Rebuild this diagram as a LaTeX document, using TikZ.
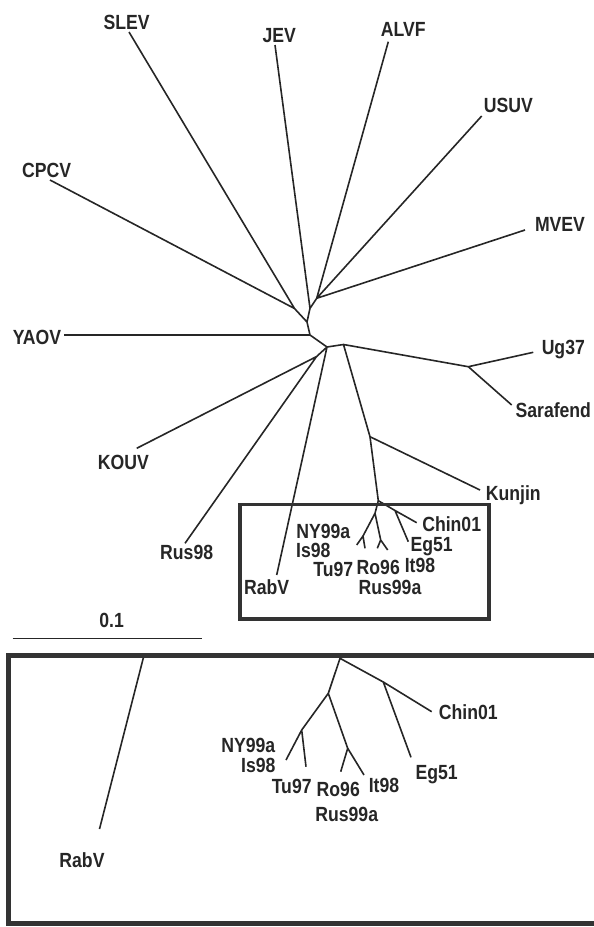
\documentclass[tikz,border=0pt]{standalone}
\usepackage{fontspec}
\setmainfont{Liberation Sans}[FakeStretch=0.86]
\usetikzlibrary{positioning}

\begin{document}
\begin{tikzpicture}[
x=1pt, y=-1pt,
branch/.style = {draw=black!85, line width=1.6pt},
taxon/.style  = {font=\fontsize{20.5}{22}\selectfont\bfseries, text=black!85,
                 inner sep=0pt, anchor=base, yshift=-1pt},
frame/.style  = {draw=black!80, line width=3.5pt},
                        ]
\useasboundingbox (0,0) rectangle (594,927);

% inner nodes of the tree
\coordinate (E)  at (316.7,298.3);
\coordinate (D)  at (310,308.3);
\coordinate (C)  at (294.5,308.5);
\coordinate (B)  at (307,322);
\coordinate (A)  at (310,335);
\coordinate (n1) at (327,347);
\coordinate (F)  at (316.5,356.6);
\coordinate (n2) at (343.5,344.5);
\coordinate (G)  at (468.3,366.7);
\coordinate (H)  at (370,436.7);
% tips
\coordinate (tSLEV) at (129,32);
\coordinate (tJEV)  at (275,45);
\coordinate (tALVF) at (388.3,41.7);
\coordinate (tUSUV) at (481.7,116);
\coordinate (tMVEV) at (525,230);
\coordinate (tCPCV) at (50,180);
\coordinate (tYAOV) at (64,335);
\coordinate (tKOUV) at (136.7,448.3);
\coordinate (tRus98) at (185,543.3);
\coordinate (tRabV) at (276.7,575);
\coordinate (tUg37) at (533.3,352.3);
\coordinate (tSara) at (511.7,405);
\coordinate (tKun)  at (480,490);

\node (SLEV) [taxon] at (126.7,28)   {SLEV};
\node (JEV)  [taxon] at (279.3,41.5) {JEV};
\node (ALVF) [taxon] at (403.3,35)   {ALVF};
\node (USUV) [taxon] at (508.3,111.5) {USUV};
\node (MVEV) [taxon] at (560,230)    {MVEV};
\node (CPCV) [taxon] at (46.7,176.5) {CPCV};
\node (YAOV) [taxon] at (37,343)     {YAOV};
\node (KOUV) [taxon] at (123.3,468)  {KOUV};
\node (Rus98) [taxon] at (186.7,558) {Rus98};
\node (RabV) [taxon] at (266.7,593)  {RabV};
\node (Ug37) [taxon] at (563.3,353)  {Ug37};
\node (Sara) [taxon] at (553.3,416.5) {Sarafend};
\node (Kun)  [taxon] at (513.3,499.5) {Kunjin};

\draw[branch] (E) -- (tALVF)  (E) -- (tUSUV)  (E) -- (tMVEV)
              (E) -- (D) -- (tJEV)
              (D) -- (B) -- (C) -- (tSLEV)  (C) -- (tCPCV)
              (B) -- (A) -- (tYAOV)
              (A) -- (n1) -- (tRabV)
              (n1) -- (F) -- (tKOUV)  (F) -- (tRus98)
              (n1) -- (n2) -- (G) -- (tUg37)  (G) -- (tSara)
              (n2) -- (H) -- (tKun);

% West Nile group, small
\coordinate (T) at (378.3,500.7);
\coordinate (X) at (395,510.5);
\coordinate (U) at (375,513.3);
\coordinate (V) at (363,536);
\coordinate (W) at (380.7,540);
\draw[branch] (H) -- (T) -- (X) -- (416.7,522.7)
              (X) -- (408.3,541.7)
              (T) -- (U) -- (V) -- (356.7,545)  (V) -- (365,548.3)
              (U) -- (W) -- (377.3,548.3)  (W) -- (387.7,550);

\node (NYa)  [taxon] at (323.3,537.5) {NY99a};
\node (Isa)  [taxon] at (313.3,556.5) {Is98};
\node (Tua)  [taxon] at (333.3,575.5) {Tu97};
\node (Roa)  [taxon] at (378.3,573)   {Ro96};
\node (Ita)  [taxon] at (420,571.5)   {It98};
\node (Rusa) [taxon] at (390,593)     {Rus99a};
\node (Ega)  [taxon] at (431.7,550.5) {Eg51};
\node (Chia) [taxon] at (451.7,530)   {Chin01};

\draw[frame, line width=3.2pt] (240,504.5) rectangle (489,619);

% scale bar
\coordinate (sb1) at (12.7,638.3);
\coordinate (sb2) at (201.7,638.3);
\draw[branch] (sb1) -- (sb2);
\node (scale) [taxon] at (111.7,626.5) {0.1};

% enlarged view
\draw[frame, line width=4.5pt] (600,655.5) -- (8.7,655.5) -- (8.7,923.5) -- (600,923.5);

\coordinate (T2) at (340,658.3);
\coordinate (U2) at (328.3,693.3);
\coordinate (V2) at (301.7,730);
\coordinate (W2) at (347.7,748.3);
\coordinate (X2) at (383.3,682);
\draw[branch] (143.3,658) -- (99.5,829)
              (T2) -- (X2) -- (431.7,711.7)  (X2) -- (411,757.3)
              (T2) -- (U2) -- (V2) -- (286,760)  (V2) -- (306,766.7)
              (U2) -- (W2) -- (340.7,771.7)  (W2) -- (364,775);

\node (RabVb) [taxon] at (82,866)     {RabV};
\node (NYb)   [taxon] at (248.3,751.5) {NY99a};
\node (Isb)   [taxon] at (258.3,771.5) {Is98};
\node (Tub)   [taxon] at (291.7,792.5) {Tu97};
\node (Rob)   [taxon] at (338.3,795.5) {Ro96};
\node (Itb)   [taxon] at (384,791)     {It98};
\node (Rusb)  [taxon] at (346.7,820)   {Rus99a};
\node (Chib)  [taxon] at (468.3,718)   {Chin01};
\node (Egb)   [taxon] at (436.7,778)   {Eg51};
\end{tikzpicture}
\end{document}
